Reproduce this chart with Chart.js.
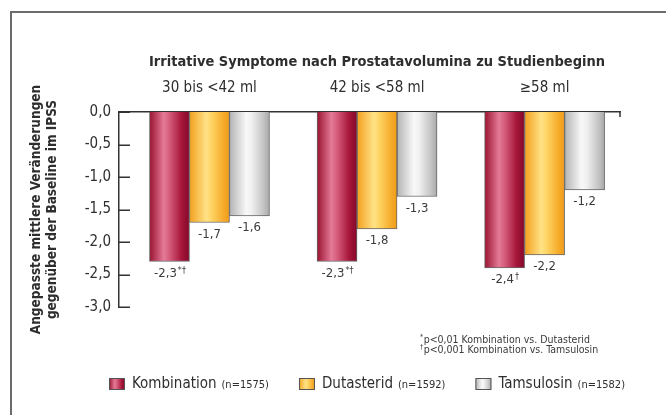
<!DOCTYPE html>
<html>
<head>
<meta charset="utf-8">
<script src="https://cdn.jsdelivr.net/npm/chart.js@4.4.0/dist/chart.umd.min.js"></script>
<style>
  html, body { margin: 0; background: #fff; }
  #wrap { position: relative; width: 666px; height: 415px; overflow: hidden; }
  #frame { position: absolute; left: 10px; top: 11px; width: 700px; height: 450px;
           border-left: 2px solid #6b6b6b; border-top: 2px solid #6b6b6b; }
  canvas { position: absolute; left: 0; top: 0; }
</style>
</head>
<body>
<div id="wrap"><div id="frame"></div><canvas id="c" width="666" height="415"></canvas></div>
<script>
const FONT = '"Liberation Sans Narrow", "DejaVu Sans Condensed", sans-serif';

// data
const chartTitle = 'Irritative Symptome nach Prostatavolumina zu Studienbeginn';
const yTitle = ['Angepasste mittlere Veränderungen', 'gegenüber der Baseline im IPSS'];
const categories = ['30 bis <42 ml', '42 bis <58 ml', '≥58 ml'];
const seriesNames = ['Kombination', 'Dutasterid', 'Tamsulosin'];
const seriesN = ['(n=1575)', '(n=1592)', '(n=1582)'];
const kombination = [-2.3, -2.3, -2.4];
const dutasterid = [-1.7, -1.8, -2.2];
const tamsulosin = [-1.6, -1.3, -1.2];
const kombinationMarks = ['*†', '*†', '†'];
const footnotes = [['*', 'p<0,01 Kombination vs. Dutasterid'], ['†', 'p<0,001 Kombination vs. Tamsulosin']];

const shades = [
  { flat: '#b5294d', stops: [[0, '#99122f'], [0.36, '#e47a98'], [0.5, '#d65c7c'], [0.8, '#a5163a'], [1, '#84082a']] },
  { flat: '#fbbf3c', stops: [[0, '#f3a01e'], [0.42, '#ffe286'], [0.55, '#fed565'], [0.85, '#f6ab2a'], [1, '#ef9c18']] },
  { flat: '#dcdcdc', stops: [[0, '#b3b3b3'], [0.42, '#f8f8f8'], [0.55, '#f0f0f0'], [0.85, '#c4c4c4'], [1, '#a8a8a8']] }
];

const fmt = v => v.toFixed(1).replace('.', ',');

function shade(s) {
  return ctx => {
    const el = ctx.element;
    if (!el || typeof el.x !== 'number' || isNaN(el.x) || !el.width) return s.flat;
    const g = ctx.chart.ctx.createLinearGradient(el.x - el.width / 2, 0, el.x + el.width / 2, 0);
    s.stops.forEach(([o, c]) => g.addColorStop(o, c));
    return g;
  };
}

const seriesValues = [kombination, dutasterid, tamsulosin];
const datasets = seriesValues.map((vals, k) => ({
  label: seriesNames[k],
  data: vals.map((y, i) => ({ x: i, y })),
  backgroundColor: shade(shades[k]),
  borderColor: '#666',
  borderWidth: 1,
  barThickness: 40
}));

const extras = {
  id: 'extras',
  afterDraw(chart) {
    const c = chart.ctx;
    const xs = chart.scales.x;
    const ys = chart.scales.y;
    c.save();
    // title
    c.fillStyle = '#2e2e2e';
    c.font = 'bold 14.5px ' + FONT;
    c.textAlign = 'center';
    c.textBaseline = 'middle';
    c.fillText(chartTitle, 377, 62);

    // inward tick marks on the y axis + drop at right end of zero line
    c.strokeStyle = '#333';
    c.lineWidth = 1.5;
    c.beginPath();
    ys.ticks.forEach(t => {
      const py = Math.round(ys.getPixelForValue(t.value)) + 0.25;
      c.moveTo(ys.right, py);
      c.lineTo(ys.right + 11, py);
    });
    c.moveTo(xs.right, xs.bottom);
    c.lineTo(xs.right, xs.bottom + 5);
    c.stroke();

    // value labels under each bar
    chart.data.datasets.forEach((ds, di) => {
      chart.getDatasetMeta(di).data.forEach((bar, i) => {
        const txt = fmt(ds.data[i].y);
        const mark = di === 0 ? kombinationMarks[i] : '';
        c.font = '13px ' + FONT;
        const w1 = c.measureText(txt).width;
        c.font = '9px ' + FONT;
        const w2 = c.measureText(mark).width;
        const x0 = bar.x - (w1 + w2) / 2;
        const y0 = bar.y + 12;
        c.fillStyle = '#3a3a3a';
        c.textAlign = 'left';
        c.font = '13px ' + FONT;
        c.fillText(txt, x0, y0);
        if (mark) {
          c.font = '9px ' + FONT;
          c.fillText(mark, x0 + w1 + 1, y0 - 3);
        }
      });
    });

    // footnotes
    footnotes.forEach(([m, t], i) => {
      const y = 340 + i * 10.5;
      c.font = '7px ' + FONT;
      c.fillText(m, 420, y - 3);
      const mw = c.measureText(m).width;
      c.font = '10.5px ' + FONT;
      c.fillText(t, 420 + mw + 0.5, y);
    });

    // legend
    const items = seriesNames.map((name, k) => {
      c.font = '15px ' + FONT;
      const w1 = c.measureText(name).width;
      c.font = '11px ' + FONT;
      const w2 = c.measureText(seriesN[k]).width;
      return { name, n: seriesN[k], w1, w2, w: 16 + 7 + w1 + 5 + w2 };
    });
    const gap = 30;
    const total = items.reduce((a, it) => a + it.w, 0) + gap * (items.length - 1);
    let x = 367 - total / 2;
    const ly = 384;
    items.forEach((it, k) => {
      const g = c.createLinearGradient(x, 0, x + 16, 0);
      shades[k].stops.forEach(([o, col]) => g.addColorStop(o, col));
      c.fillStyle = g;
      c.fillRect(x, ly - 5.5, 16, 11);
      c.strokeStyle = '#555';
      c.lineWidth = 1;
      c.strokeRect(x + 0.5, ly - 5.5, 15, 11);
      c.fillStyle = '#2e2e2e';
      c.font = '15px ' + FONT;
      c.fillText(it.name, x + 23, ly);
      c.font = '11px ' + FONT;
      c.fillText(it.n, x + 23 + it.w1 + 5, ly + 1);
      x += it.w + gap;
    });
    c.restore();
  }
};

const chart = new Chart(document.getElementById('c'), {
  type: 'bar',
  data: { datasets },
  options: {
    responsive: false,
    animation: false,
    layout: { padding: { top: 60, right: 46, bottom: 108, left: 0 } },
    plugins: { legend: { display: false }, tooltip: { enabled: false } },
    scales: {
      x: {
        type: 'linear',
        position: 'top',
        min: -0.54,
        max: 2.45,
        offset: false,
        afterFit: s => { s.height = 52; },
        afterBuildTicks: s => { s.ticks = categories.map((_, i) => ({ value: i })); },
        grid: { display: false, drawTicks: false },
        border: { display: true, color: '#333', width: 1.5 },
        ticks: {
          callback: v => categories[v],
          color: '#2e2e2e',
          font: { family: FONT, size: 15 },
          padding: 15,
          maxRotation: 0,
          autoSkip: false
        }
      },
      y: {
        min: -3,
        max: 0,
        afterFit: s => { s.width = 119; },
        grid: { display: false, drawTicks: false },
        border: { display: true, color: '#333', width: 1.5 },
        ticks: {
          stepSize: 0.5,
          callback: v => fmt(v),
          color: '#2e2e2e',
          font: { family: FONT, size: 15 },
          padding: 8
        },
        title: {
          display: true,
          text: yTitle,
          color: '#2e2e2e',
          font: { family: FONT, size: 13.5, weight: 'bold', lineHeight: 1.18 },
          padding: { top: 29, bottom: 0 }
        }
      }
    }
  },
  plugins: [extras]
});
chart.update();
</script>
</body>
</html>
